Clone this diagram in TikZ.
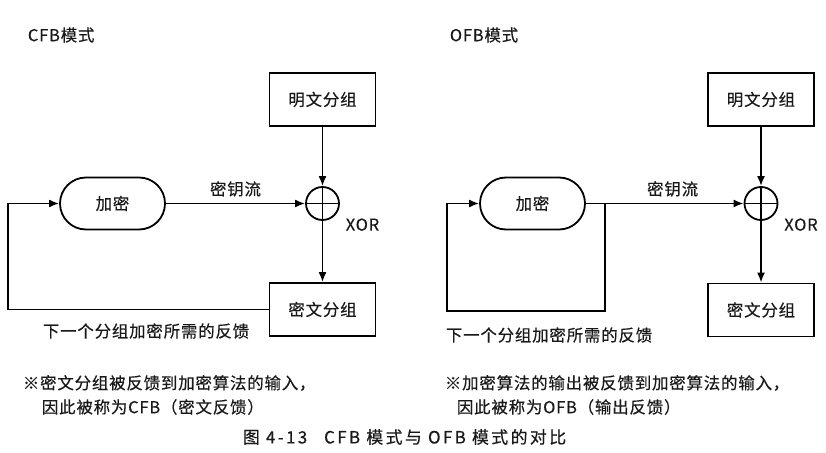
\documentclass[tikz,border=0pt]{standalone}
\usepackage{fontspec}
\setmainfont{Noto Sans CJK SC}[LetterSpace=5, FakeBold=0.4]
\usetikzlibrary{arrows.meta, positioning}
\definecolor{mytext}{RGB}{25, 25, 25}

\begin{document}
\begin{tikzpicture}[x=1bp, y=-1bp, line width=1.8bp,
    font=\fontsize{16.5}{24}\selectfont, text=mytext,
    blk/.style={draw, minimum width=106bp, minimum height=53bp},
    enc/.style={draw, rounded corners=26bp, minimum width=105bp, minimum height=52bp},
    xorc/.style={draw, circle, minimum size=33bp, inner sep=0pt},
    arr/.style={-{Latex[length=10bp, width=8bp]}},
    lbl/.style={inner sep=1bp}]
  \useasboundingbox (0,0) rectangle (826,453);
  % CFB mode
  \node[lbl, anchor=west] (cfbt) at (26,35) {CFB模式};
  \node[blk] (cpt) at (322.5,99.5) {明文分组};
  \node[xorc] (cx) at (322.5,203.5) {};
  \draw (cx.north) -- (cx.south) (cx.west) -- (cx.east);
  \node[enc] (ce) at (112.5,203.5) {加密};
  \node[blk] (cct) at (322.5,309.5) {密文分组};
  \node[lbl, anchor=north west] (cxor) at ([xshift=4bp, yshift=-13bp]cx.east) {XOR};
  \draw[arr] (cpt) -- (cx);
  \draw[arr] (cx) -- (cct);
  \draw[arr] (ce) -- node[lbl, above=5bp] (cks) {密钥流} (cx);
  \coordinate (cfb) at (8,309.5);
  \draw[arr] (cct.west) -- (cfb) |- (ce.west);
  \node[lbl, anchor=west] (cfl) at (41,331) {下一个分组加密所需的反馈};
  \node[lbl, anchor=west] (cn1) at (21,383) {※密文分组被反馈到加密算法的输入，};
  \node[lbl, anchor=west] (cn2) at (40,407) {因此被称为CFB（密文反馈）};
  % OFB mode
  \node[lbl, anchor=west] (ofbt) at (448,35) {OFB模式};
  \node[blk] (opt) at (761,99.5) {明文分组};
  \node[xorc] (ox) at (761,203.5) {};
  \draw (ox.north) -- (ox.south) (ox.west) -- (ox.east);
  \node[enc] (oe) at (532.5,203.5) {加密};
  \node[blk] (oct) at (761,310) {密文分组};
  \node[lbl, anchor=north west] (oxor) at ([xshift=4bp, yshift=-13bp]ox.east) {XOR};
  \draw[arr] (opt) -- (ox);
  \draw[arr] (ox) -- (oct);
  \draw[arr] (oe) -- node[lbl, above=5bp, pos=0.55] (oks) {密钥流} (ox);
  \coordinate (obr) at (605,203.5);
  \coordinate (obd) at (605,311);
  \coordinate (obl) at (447,311);
  \draw[arr] (obr) -- (obd) -- (obl) |- (oe.west);
  \node[lbl, anchor=west] (ofl) at (444,335) {下一个分组加密所需的反馈};
  \node[lbl, anchor=west] (on1) at (443,383) {※加密算法的输出被反馈到加密算法的输入，};
  \node[lbl, anchor=west] (on2) at (455,407) {因此被称为OFB（输出反馈）};
  % Caption
  \node[lbl, anchor=west, font=\fontsize{17}{17}\selectfont\addfontfeatures{LetterSpace=14}] (cap) at (241,437)
    {图 4-13\quad CFB 模式与 OFB 模式的对比};
\end{tikzpicture}
\end{document}
